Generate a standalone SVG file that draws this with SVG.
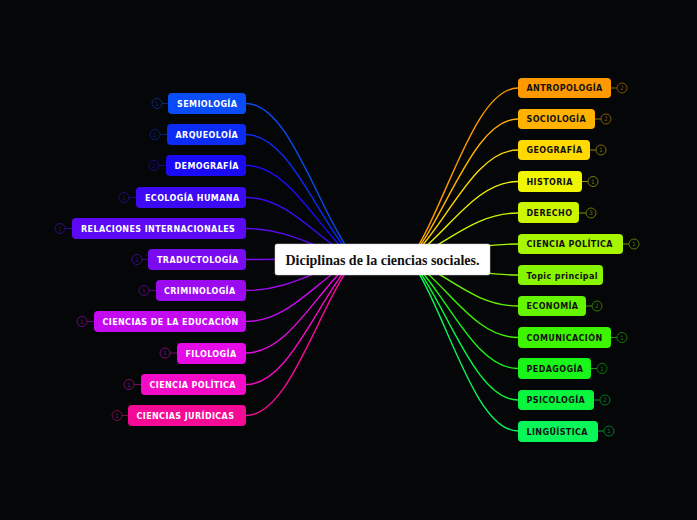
<svg xmlns="http://www.w3.org/2000/svg" width="697" height="520" viewBox="0 0 697 520">
<style>
.lt{font-family:"DejaVu Sans",sans-serif;font-weight:bold;font-size:8px;fill:#fff;letter-spacing:0.4px}
.rt{font-family:"DejaVu Sans",sans-serif;font-weight:bold;font-size:8px;fill:#111;letter-spacing:0.4px}
.bt{font-family:"DejaVu Sans",sans-serif;font-size:6px;text-anchor:middle}
.c{fill:none;stroke-width:1.4}
.bd{fill:none;stroke-width:1}
</style>
<rect width="697" height="520" fill="#050608"/>
<g id="connectors">
<path class="c" stroke="#0a4cf5" d="M246,103.5 C290,103.5 318,212 355,259"/>
<path class="c" stroke="#0a2cf5" d="M246,134.5 C290,134.5 318,222 355,259"/>
<path class="c" stroke="#1a0af5" d="M246,165.5 C290,165.5 318,231 355,259"/>
<path class="c" stroke="#3c0af5" d="M246,197.5 C290,197.5 318,241 355,259"/>
<path class="c" stroke="#5c0af5" d="M246,228.5 C290,228.5 318,250 355,259"/>
<path class="c" stroke="#7a0af0" d="M246,259.5 C290,259.5 318,259 355,259"/>
<path class="c" stroke="#9c0af0" d="M246,290.5 C290,290.5 318,268 355,259"/>
<path class="c" stroke="#c40af0" d="M246,321.5 C290,321.5 318,278 355,259"/>
<path class="c" stroke="#e60ae6" d="M246,353 C290,353 318,287 355,259"/>
<path class="c" stroke="#f50ac8" d="M246,384.5 C290,384.5 318,297 355,259"/>
<path class="c" stroke="#f50a96" d="M246,415.5 C290,415.5 318,306 355,259"/>
<path class="c" stroke="#ff9900" d="M518,88 C474,88 446,208 410,259"/>
<path class="c" stroke="#ffb300" d="M518,119 C474,119 446,217 410,259"/>
<path class="c" stroke="#ffd900" d="M518,150 C474,150 446,226 410,259"/>
<path class="c" stroke="#f0f500" d="M518,181.5 C474,181.5 446,236 410,259"/>
<path class="c" stroke="#ccf500" d="M518,213 C474,213 446,245 410,259"/>
<path class="c" stroke="#a8f500" d="M518,244 C474,244 446,254 410,259"/>
<path class="c" stroke="#88f500" d="M518,275 C474,275 446,264 410,259"/>
<path class="c" stroke="#66f500" d="M518,306 C474,306 446,273 410,259"/>
<path class="c" stroke="#3df500" d="M518,337.5 C474,337.5 446,283 410,259"/>
<path class="c" stroke="#1af51a" d="M518,368.5 C474,368.5 446,292 410,259"/>
<path class="c" stroke="#0af53d" d="M518,400 C474,400 446,301 410,259"/>
<path class="c" stroke="#0af55a" d="M518,431 C474,431 446,310 410,259"/>
</g>
<g id="central">
<rect x="275" y="244" width="215" height="31" rx="2" fill="#fff" stroke="#ccc" stroke-width="0.5"/>
<text x="382.5" y="264.5" text-anchor="middle" font-family="Liberation Serif,serif" font-weight="bold" font-size="14" fill="#111">Diciplinas de la ciencias sociales.</text>
</g>
<g id="n-semiologia"><line x1="162" y1="103.5" x2="168" y2="103.5" stroke="#0a4cf5" stroke-opacity="0.5"/><circle cx="157" cy="103.5" r="5" class="bd" stroke="#0a2a80"/><text x="157" y="105.6" class="bt" fill="#0a2a80">1</text><rect x="168" y="93" width="78" height="21" rx="4" fill="#0a4cf5"/><text x="177" y="106.5" class="lt">SEMIOLOGÍA</text></g>
<g id="n-arqueoloia"><line x1="160" y1="134.5" x2="167" y2="134.5" stroke="#0a2cf5" stroke-opacity="0.5"/><circle cx="155" cy="134.5" r="5" class="bd" stroke="#0a1a80"/><text x="155" y="136.6" class="bt" fill="#0a1a80">2</text><rect x="167" y="124" width="79" height="21" rx="4" fill="#0a2cf5"/><text x="175.5" y="137.5" class="lt">ARQUEOLOÍA</text></g>
<g id="n-demografia"><line x1="159" y1="165.5" x2="166" y2="165.5" stroke="#1a0af5" stroke-opacity="0.5"/><circle cx="154" cy="165.5" r="5" class="bd" stroke="#140a80"/><text x="154" y="167.6" class="bt" fill="#140a80">2</text><rect x="166" y="155" width="80" height="21" rx="4" fill="#1a0af5"/><text x="174.5" y="168.5" class="lt">DEMOGRAFÍA</text></g>
<g id="n-ecologia"><line x1="129" y1="197.5" x2="136" y2="197.5" stroke="#3c0af5" stroke-opacity="0.5"/><circle cx="124" cy="197.5" r="5" class="bd" stroke="#220a80"/><text x="124" y="199.6" class="bt" fill="#220a80">1</text><rect x="136" y="187" width="110" height="21" rx="4" fill="#3c0af5"/><text x="145" y="200.5" class="lt">ECOLOGÍA HUMANA</text></g>
<g id="n-relaciones"><line x1="65" y1="228.5" x2="72" y2="228.5" stroke="#5c0af5" stroke-opacity="0.5"/><circle cx="60" cy="228.5" r="5" class="bd" stroke="#320a80"/><text x="60" y="230.6" class="bt" fill="#320a80">1</text><rect x="72" y="218" width="174" height="21" rx="4" fill="#5c0af5"/><text x="81" y="231.5" class="lt">RELACIONES  INTERNACIONALES</text></g>
<g id="n-traductologia"><line x1="142" y1="259.5" x2="148" y2="259.5" stroke="#7a0af0" stroke-opacity="0.5"/><circle cx="137" cy="259.5" r="5" class="bd" stroke="#420a80"/><text x="137" y="261.6" class="bt" fill="#420a80">1</text><rect x="148" y="249" width="98" height="21" rx="4" fill="#7a0af0"/><text x="157" y="262.5" class="lt">TRADUCTOLOGÍA</text></g>
<g id="n-criminologia"><line x1="149" y1="290.5" x2="156" y2="290.5" stroke="#9c0af0" stroke-opacity="0.5"/><circle cx="144" cy="290.5" r="5" class="bd" stroke="#520a80"/><text x="144" y="292.6" class="bt" fill="#520a80">1</text><rect x="156" y="280" width="90" height="21" rx="4" fill="#9c0af0"/><text x="164" y="293.5" class="lt">CRIMINOLOGÍA</text></g>
<g id="n-educacion"><line x1="87" y1="321.5" x2="94" y2="321.5" stroke="#c40af0" stroke-opacity="0.5"/><circle cx="82" cy="321.5" r="5" class="bd" stroke="#6a0a80"/><text x="82" y="323.6" class="bt" fill="#6a0a80">1</text><rect x="94" y="311" width="152" height="21" rx="4" fill="#c40af0"/><text x="102.5" y="324.5" class="lt">CIENCIAS DE LA EDUCACIÓN</text></g>
<g id="n-filologia"><line x1="170" y1="353" x2="177" y2="353" stroke="#e60ae6" stroke-opacity="0.5"/><circle cx="165" cy="353" r="5" class="bd" stroke="#7a0a7a"/><text x="165" y="355.1" class="bt" fill="#7a0a7a">1</text><rect x="177" y="343" width="69" height="21" rx="4" fill="#e60ae6"/><text x="185.5" y="356.5" class="lt">FILOLOGÍA</text></g>
<g id="n-cienciapolitica-l"><line x1="134" y1="384.5" x2="141" y2="384.5" stroke="#f50ac8" stroke-opacity="0.5"/><circle cx="129" cy="384.5" r="5" class="bd" stroke="#800a6a"/><text x="129" y="386.6" class="bt" fill="#800a6a">1</text><rect x="141" y="374" width="105" height="21" rx="4" fill="#f50ac8"/><text x="149.5" y="387.5" class="lt">CIENCIA POLÍTICA</text></g>
<g id="n-juridicas"><line x1="122" y1="415.5" x2="128" y2="415.5" stroke="#f50a96" stroke-opacity="0.5"/><circle cx="117" cy="415.5" r="5" class="bd" stroke="#800a50"/><text x="117" y="417.6" class="bt" fill="#800a50">1</text><rect x="128" y="405" width="118" height="21" rx="4" fill="#f50a96"/><text x="136.5" y="418.5" class="lt">CIENCIAS JURÍDICAS</text></g>
<g id="n-antropologia"><line x1="611" y1="88" x2="617" y2="88" stroke="#ff9900" stroke-opacity="0.6"/><circle cx="622" cy="88" r="5" class="bd" stroke="#805000"/><text x="622" y="90.1" class="bt" fill="#805000">2</text><rect x="518" y="78" width="93" height="20" rx="4" fill="#ff9900"/><text x="526.5" y="91" class="rt">ANTROPOLOGÍA</text></g>
<g id="n-sociologia"><line x1="595" y1="119" x2="601" y2="119" stroke="#ffb300" stroke-opacity="0.6"/><circle cx="606" cy="119" r="5" class="bd" stroke="#805a00"/><text x="606" y="121.1" class="bt" fill="#805a00">2</text><rect x="518" y="109" width="77" height="20" rx="4" fill="#ffb300"/><text x="526.5" y="122" class="rt">SOCIOLOGÍA</text></g>
<g id="n-geografia"><line x1="590" y1="150" x2="596" y2="150" stroke="#ffd900" stroke-opacity="0.6"/><circle cx="601" cy="150" r="5" class="bd" stroke="#806c00"/><text x="601" y="152.1" class="bt" fill="#806c00">1</text><rect x="518" y="140" width="72" height="20" rx="4" fill="#ffd900"/><text x="526.5" y="153" class="rt">GEOGRAFÍA</text></g>
<g id="n-historia"><line x1="582" y1="181.5" x2="588" y2="181.5" stroke="#f0f500" stroke-opacity="0.6"/><circle cx="593" cy="181.5" r="5" class="bd" stroke="#787a00"/><text x="593" y="183.6" class="bt" fill="#787a00">1</text><rect x="518" y="171" width="64" height="21" rx="4" fill="#f0f500"/><text x="526.5" y="184.5" class="rt">HISTORIA</text></g>
<g id="n-derecho"><line x1="579" y1="213" x2="586" y2="213" stroke="#ccf500" stroke-opacity="0.6"/><circle cx="591" cy="213" r="5" class="bd" stroke="#667a00"/><text x="591" y="215.1" class="bt" fill="#667a00">3</text><rect x="518" y="202" width="61" height="21" rx="4" fill="#ccf500"/><text x="526.5" y="216" class="rt">DERECHO</text></g>
<g id="n-cienciapolitica-r"><line x1="623" y1="244" x2="629" y2="244" stroke="#a8f500" stroke-opacity="0.6"/><circle cx="634" cy="244" r="5" class="bd" stroke="#547a00"/><text x="634" y="246.1" class="bt" fill="#547a00">1</text><rect x="518" y="234" width="105" height="20" rx="4" fill="#a8f500"/><text x="526.5" y="247" class="rt">CIENCIA POLÍTICA</text></g>
<g id="n-topic"><rect x="518" y="265" width="85" height="20" rx="4" fill="#88f500"/><text x="526.5" y="278.5" class="rt" letter-spacing="0">Topic principal</text></g>
<g id="n-economia"><line x1="586" y1="306" x2="592" y2="306" stroke="#66f500" stroke-opacity="0.6"/><circle cx="597" cy="306" r="5" class="bd" stroke="#337a00"/><text x="597" y="308.1" class="bt" fill="#337a00">2</text><rect x="518" y="296" width="68" height="20" rx="4" fill="#66f500"/><text x="526.5" y="309" class="rt">ECONOMÍA</text></g>
<g id="n-comunicacion"><line x1="611" y1="337.5" x2="617" y2="337.5" stroke="#3df500" stroke-opacity="0.6"/><circle cx="622" cy="337.5" r="5" class="bd" stroke="#1e7a00"/><text x="622" y="339.6" class="bt" fill="#1e7a00">1</text><rect x="518" y="327" width="93" height="21" rx="4" fill="#3df500"/><text x="526.5" y="340.5" class="rt">COMUNICACIÓN</text></g>
<g id="n-pedagogia"><line x1="591" y1="368.5" x2="597" y2="368.5" stroke="#1af51a" stroke-opacity="0.6"/><circle cx="602" cy="368.5" r="5" class="bd" stroke="#0d7a0d"/><text x="602" y="370.6" class="bt" fill="#0d7a0d">1</text><rect x="518" y="358" width="73" height="21" rx="4" fill="#1af51a"/><text x="526.5" y="371.5" class="rt">PEDAGOGÍA</text></g>
<g id="n-psicologia"><line x1="594" y1="400" x2="600" y2="400" stroke="#0af53d" stroke-opacity="0.6"/><circle cx="605" cy="400" r="5" class="bd" stroke="#057a1e"/><text x="605" y="402.1" class="bt" fill="#057a1e">2</text><rect x="518" y="390" width="76" height="20" rx="4" fill="#0af53d"/><text x="526.5" y="403" class="rt">PSICOLOGÍA</text></g>
<g id="n-linguistica"><line x1="598" y1="431" x2="604" y2="431" stroke="#0af55a" stroke-opacity="0.6"/><circle cx="609" cy="431" r="5" class="bd" stroke="#057a2d"/><text x="609" y="433.1" class="bt" fill="#057a2d">1</text><rect x="518" y="421" width="80" height="21" rx="4" fill="#0af55a"/><text x="526.5" y="434.5" class="rt">LINGÜÍSTICA</text></g>
</svg>
